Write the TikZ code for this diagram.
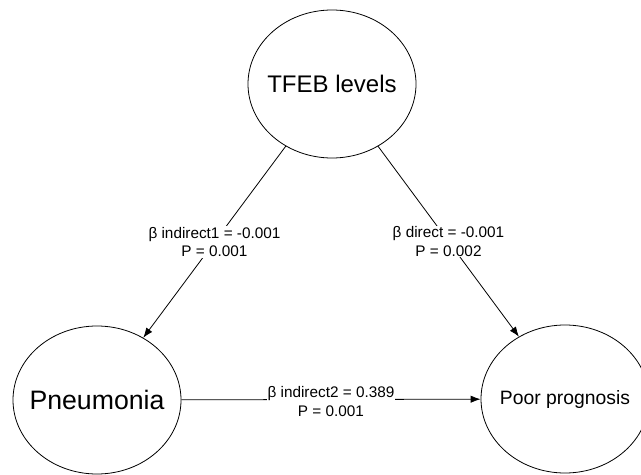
\documentclass[tikz,border=0pt]{standalone}
\usepackage{fontspec}
\setmainfont{Liberation Sans}
\usetikzlibrary{shapes.geometric, arrows.meta}

\begin{document}
\begin{tikzpicture}[x=0.75pt, y=-0.75pt,
    var/.style={draw, ellipse, line width=0.6pt, minimum width=126pt, minimum height=111pt, inner sep=-30pt},
    path/.style={line width=0.6pt, -{Latex[length=7.5pt, width=5.5pt]}},
    coef/.style={fill=white, inner sep=0.5pt, align=center, font=\fontsize{11.5}{14}\selectfont}]
          % --- 1. page size ---
          \useasboundingbox (0,0) rectangle (641,474);

          % --- 2. the three variables ---
          \node[var, font=\fontsize{18}{22}\selectfont] (tfeb) at (332,84) {TFEB levels};
          \node[var, font=\fontsize{20}{24}\selectfont] (pneu) at (97,400) {Pneumonia};
          \node[var, font=\fontsize{14.5}{18}\selectfont] (prog) at (565,399) {Poor prognosis};

          % --- 3. paths with coefficients ---
          \draw[path] (tfeb) -- (pneu)
              node[coef, pos=0.5] (ind1) {β indirect1 = -0.001\\P = 0.001};
          \draw[path] (tfeb) -- (prog)
              node[coef, pos=0.5] (dir) {β direct = -0.001\\P = 0.002};
          \draw[path] (pneu) -- (prog)
              node[coef, pos=0.5, yshift=-1.5pt] (ind2) {β indirect2 = 0.389\\P = 0.001};

      \end{tikzpicture}
\end{document}
